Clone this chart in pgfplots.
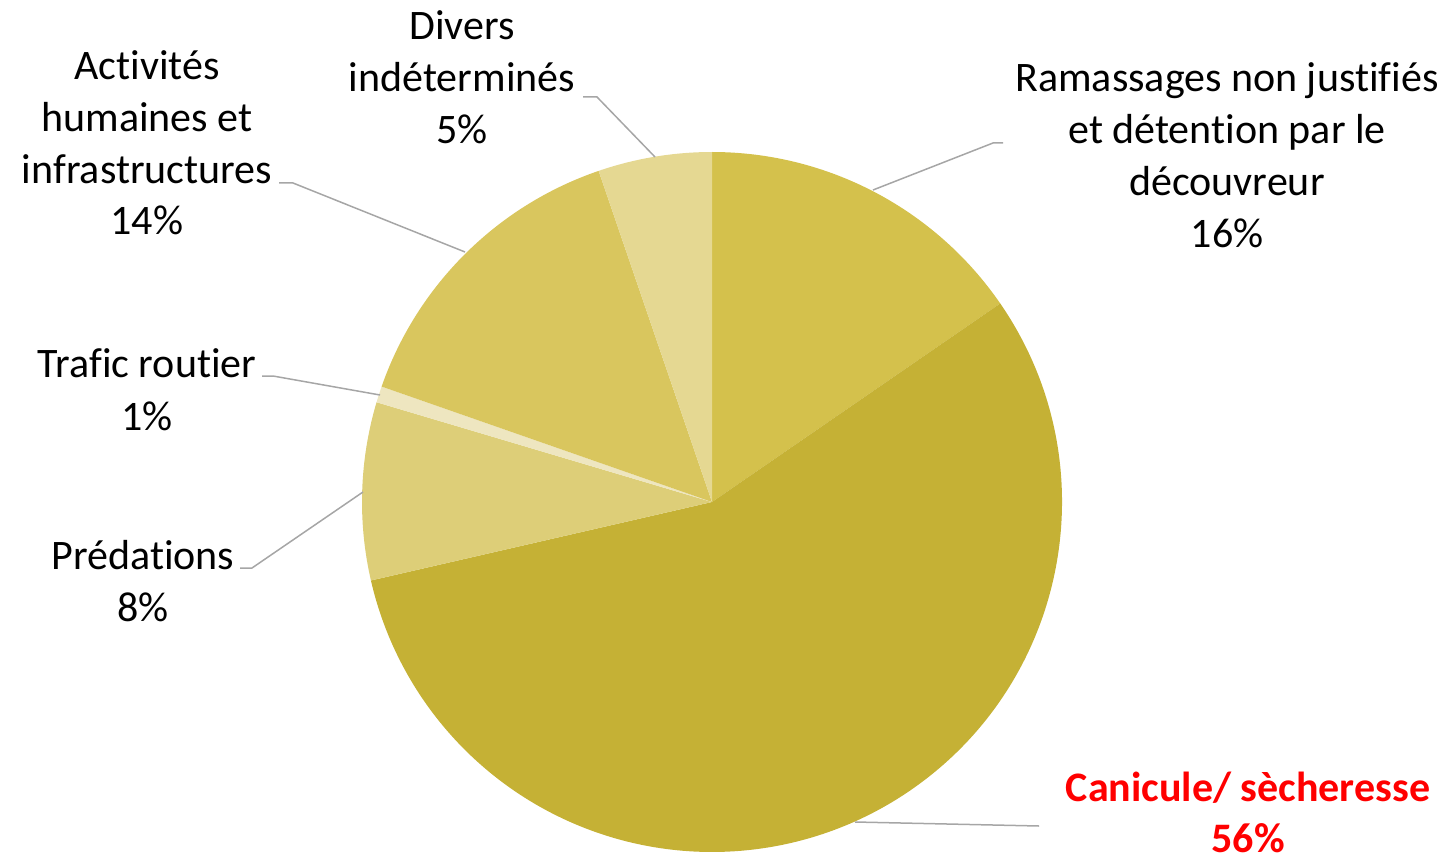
\documentclass[border=0pt]{standalone}
\usepackage{fontspec}
\setmainfont[Ligatures=NoCommon]{Carlito}
\usepackage{pgfplots}
\pgfplotsset{compat=1.18}
\definecolor{cRam}{HTML}{D4C14C}
\definecolor{cCan}{HTML}{C5B135}
\definecolor{cPre}{HTML}{DDCE78}
\definecolor{cTra}{HTML}{EEE6C0}
\definecolor{cAct}{HTML}{D9C65E}
\definecolor{cDiv}{HTML}{E5D892}
\definecolor{lead}{HTML}{A6A6A6}
% shares in percent (clockwise from 12 o'clock)
\def\pRam{15.4}
\def\pCan{56.0}
\def\pPre{8.2}
\def\pTra{0.75}
\def\pAct{14.4}
\def\pDiv{5.25}
\newcommand{\slice}[3]{%
  \addplot[fill=#1,draw=none,forget plot] coordinates {(712,350)}
    -- ++({90-3.6*#2}:175pt) arc[start angle={90-3.6*#2}, end angle={90-3.6*#3}, radius=175pt] -- cycle;}
\begin{document}
\begin{tikzpicture}[every node/.style={font=\fontsize{21}{26}\selectfont, inner sep=0pt}]
\pgfmathsetmacro{\cA}{\pRam}
\pgfmathsetmacro{\cB}{\cA+\pCan}
\pgfmathsetmacro{\cC}{\cB+\pPre}
\pgfmathsetmacro{\cD}{\cC+\pTra}
\pgfmathsetmacro{\cE}{\cD+\pAct}
\pgfmathsetmacro{\cF}{\cE+\pDiv}
\begin{axis}[x=0.5pt, y=0.5pt, xmin=0, xmax=1455, ymin=0, ymax=852,
  hide axis, clip=false, no markers]
\slice{cRam}{0}{\cA}
\slice{cCan}{\cA}{\cB}
\slice{cPre}{\cB}{\cC}
\slice{cTra}{\cC}{\cD}
\slice{cAct}{\cD}{\cE}
\slice{cDiv}{\cE}{\cF}
% leader lines
\addplot[color=lead, line width=0.75pt, forget plot] coordinates {(873,662) (993,709) (1003,709)};
\addplot[color=lead, line width=0.75pt, forget plot] coordinates {(655,695) (597,755) (583,755)};
\addplot[color=lead, line width=0.75pt, forget plot] coordinates {(465,600) (293,669) (279,669)};
\addplot[color=lead, line width=0.75pt, forget plot] coordinates {(380,457) (273,476) (262,476)};
\addplot[color=lead, line width=0.75pt, forget plot] coordinates {(363,360) (252,284) (240,284)};
\addplot[color=lead, line width=0.75pt, forget plot] coordinates {(855,30) (1039,26)};
% labels
\node[anchor=base] at (axis cs:462,812) {Divers};
\node[anchor=base] at (axis cs:462,760) {indéterminés};
\node[anchor=base] at (axis cs:462,708) {5\%};
\node[anchor=base] at (axis cs:147,772) {Activités};
\node[anchor=base] at (axis cs:147,720) {humaines et};
\node[anchor=base] at (axis cs:147,668) {infrastructures};
\node[anchor=base] at (axis cs:147,617) {14\%};
\node[anchor=base] at (axis cs:1227,760) {Ramassages non justifiés};
\node[anchor=base] at (axis cs:1227,708) {et détention par le};
\node[anchor=base] at (axis cs:1227,656) {découvreur};
\node[anchor=base] at (axis cs:1227,604) {16\%};
\node[anchor=base] at (axis cs:147,474) {Trafic routier};
\node[anchor=base] at (axis cs:147,422) {1\%};
\node[anchor=base] at (axis cs:143,283) {Prédations};
\node[anchor=base] at (axis cs:143,231) {8\%};
\node[anchor=base, text=red, font=\fontsize{21}{26}\selectfont\bfseries] at (axis cs:1248,51) {Canicule/ sècheresse};
\node[anchor=base, text=red, font=\fontsize{21}{26}\selectfont\bfseries] at (axis cs:1248,0) {56\%};
\end{axis}
\pgfresetboundingbox
\path[use as bounding box] (current axis.south west) rectangle (current axis.north east);
\end{tikzpicture}
\end{document}
